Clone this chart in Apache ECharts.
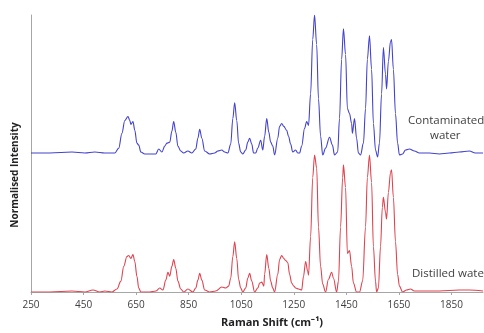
<!DOCTYPE html>
<html>
<head>
<meta charset="utf-8">
<script src="https://cdn.jsdelivr.net/npm/echarts@6/dist/echarts.min.js"></script>
<style>
html,body{margin:0;padding:0;background:#fff;}
#c{width:484px;height:333px;}
</style>
</head>
<body>
<div id="c"></div>
<script>
// Raman shift (cm-1) and plotted (offset) normalised intensity, contaminated water
var blueShift = [250,322,406,455,493,531,569,584,596,607,619,626,630,638,645,653,660,668,683,725,736,748,759,767,778,786,793,801,809,820,831,847,862,877,885,892,900,911,930,949,961,976,987,999,1010,1018,1025,1033,1040,1048,1056,1067,1075,1082,1090,1097,1105,1113,1124,1132,1139,1147,1155,1162,1170,1177,1189,1196,1204,1212,1223,1230,1238,1246,1257,1265,1272,1280,1291,1299,1306,1314,1322,1329,1337,1344,1352,1360,1371,1386,1397,1405,1417,1424,1432,1439,1447,1454,1462,1470,1473,1481,1489,1496,1504,1515,1523,1530,1538,1546,1553,1561,1569,1576,1584,1591,1599,1603,1610,1618,1622,1629,1637,1645,1652,1664,1675,1690,1709,1728,1766,1804,1842,1880,1918,1941,1970];
var blueIntensity = [141,141,142,141,142,141,141,146,161,174,178,174,170,173,164,151,149,142,140,140,145,142,148,151,152,163,173,162,148,143,141,143,141,145,156,165,156,143,140,141,143,144,142,141,150,176,192,174,151,142,140,144,152,156,150,141,141,146,154,144,158,176,162,152,148,139,156,168,171,168,164,158,150,142,144,141,141,148,166,173,169,201,256,281,251,196,158,139,146,157,149,139,142,176,236,267,241,186,181,171,161,176,156,141,139,151,186,236,260,226,171,144,137,151,201,248,221,206,234,254,256,226,181,151,139,140,144,145,143,141,141,140,141,142,143,141,141];
// Distilled water
var redShift = [250,322,406,455,486,512,531,558,577,592,603,615,622,630,638,645,653,660,668,702,725,740,752,763,771,778,786,793,801,809,820,831,847,866,877,885,892,900,911,930,953,976,991,1002,1010,1018,1025,1033,1040,1048,1056,1067,1075,1082,1090,1101,1113,1120,1128,1136,1139,1147,1155,1162,1170,1177,1189,1196,1204,1212,1219,1227,1234,1242,1250,1257,1268,1280,1287,1295,1303,1306,1314,1322,1329,1337,1344,1352,1360,1371,1382,1394,1401,1413,1420,1428,1436,1439,1447,1454,1462,1470,1477,1489,1500,1512,1523,1530,1538,1546,1553,1561,1565,1572,1580,1587,1591,1599,1603,1610,1618,1622,1629,1637,1645,1652,1664,1679,1694,1709,1747,1804,1880,1918,1970];
var redIntensity = [0,0,1,0,2,0,1,0,3,11,26,36,37,34,38,31,16,4,0,0,1,4,2,12,20,16,26,33,24,11,3,0,3,0,4,12,19,12,2,0,1,5,4,6,14,36,51,34,13,4,0,4,14,19,11,0,4,9,10,6,18,38,24,11,4,0,18,33,37,34,32,30,18,9,6,4,3,2,16,31,21,17,56,116,139,126,66,26,8,0,13,20,14,0,11,66,116,129,106,39,42,26,9,0,0,11,66,116,139,111,46,11,0,4,46,86,96,81,74,101,121,124,96,51,18,6,0,2,3,1,1,1,2,2,1];
var xTickStart = 250, xTickStep = 200, xMax = 1970;

function pairs(xs, ys){ var o=[]; for(var i=0;i<xs.length;i++) o.push([xs[i], ys[i]]); return o; }

var chart = echarts.init(document.getElementById('c'), null, {renderer:'canvas'});
var lblFont = '"Open Sans", "Liberation Sans", sans-serif';
chart.setOption({
  animation:false,
  backgroundColor:'#ffffff',
  grid:{left:31, right:1, top:15, bottom:37, containLabel:false},
  xAxis:{
    type:'value', min:xTickStart, max:xMax, interval:xTickStep,
    name:'Raman Shift (cm⁻¹)', nameLocation:'middle', nameGap:25,
    nameTextStyle:{fontFamily:lblFont, fontWeight:'bold', fontSize:11, color:'#222', padding:[0,0,0,30]},
    axisLine:{show:true, lineStyle:{color:'#a6a6a6', width:1}},
    axisTick:{show:true, length:3, lineStyle:{color:'#a6a6a6'}},
    axisLabel:{fontFamily:lblFont, fontSize:10, color:'#404040', margin:8, showMaxLabel:false,
      formatter:function(v){ return String(v); }},
    splitLine:{show:false}
  },
  yAxis:{
    type:'value', min:0, max:281,
    axisLine:{show:true, lineStyle:{color:'#a6a6a6', width:1}},
    axisTick:{show:false}, axisLabel:{show:false}, splitLine:{show:false}
  },
  series:[
    {type:'line', name:'Contaminated water', data:pairs(blueShift, blueIntensity), showSymbol:false, symbol:'none',
     smooth:0.35, smoothMonotone:'x', lineStyle:{color:'#4343cf', width:1.1}, z:3},
    {type:'line', name:'Distilled water', data:pairs(redShift, redIntensity), showSymbol:false, symbol:'none',
     smooth:0.35, smoothMonotone:'x', lineStyle:{color:'#de4450', width:1.1}, z:2}
  ],
  graphic:[
    {type:'text', x:15, y:175, rotation:Math.PI/2, style:{text:'Normalised Intensity', font:'bold 10px "Open Sans", sans-serif', fill:'#222', align:'center', verticalAlign:'middle'}},
    {type:'text', left:408, top:115, style:{text:'Contaminated', font:'11.5px "Open Sans", sans-serif', fill:'#404040'}},
    {type:'text', left:430, top:130, style:{text:'water', font:'11.5px "Open Sans", sans-serif', fill:'#404040'}},
    {type:'text', left:412, top:268, style:{text:'Distilled water', font:'11.5px "Open Sans", sans-serif', fill:'#404040'}}
  ]
});
</script>
</body>
</html>
